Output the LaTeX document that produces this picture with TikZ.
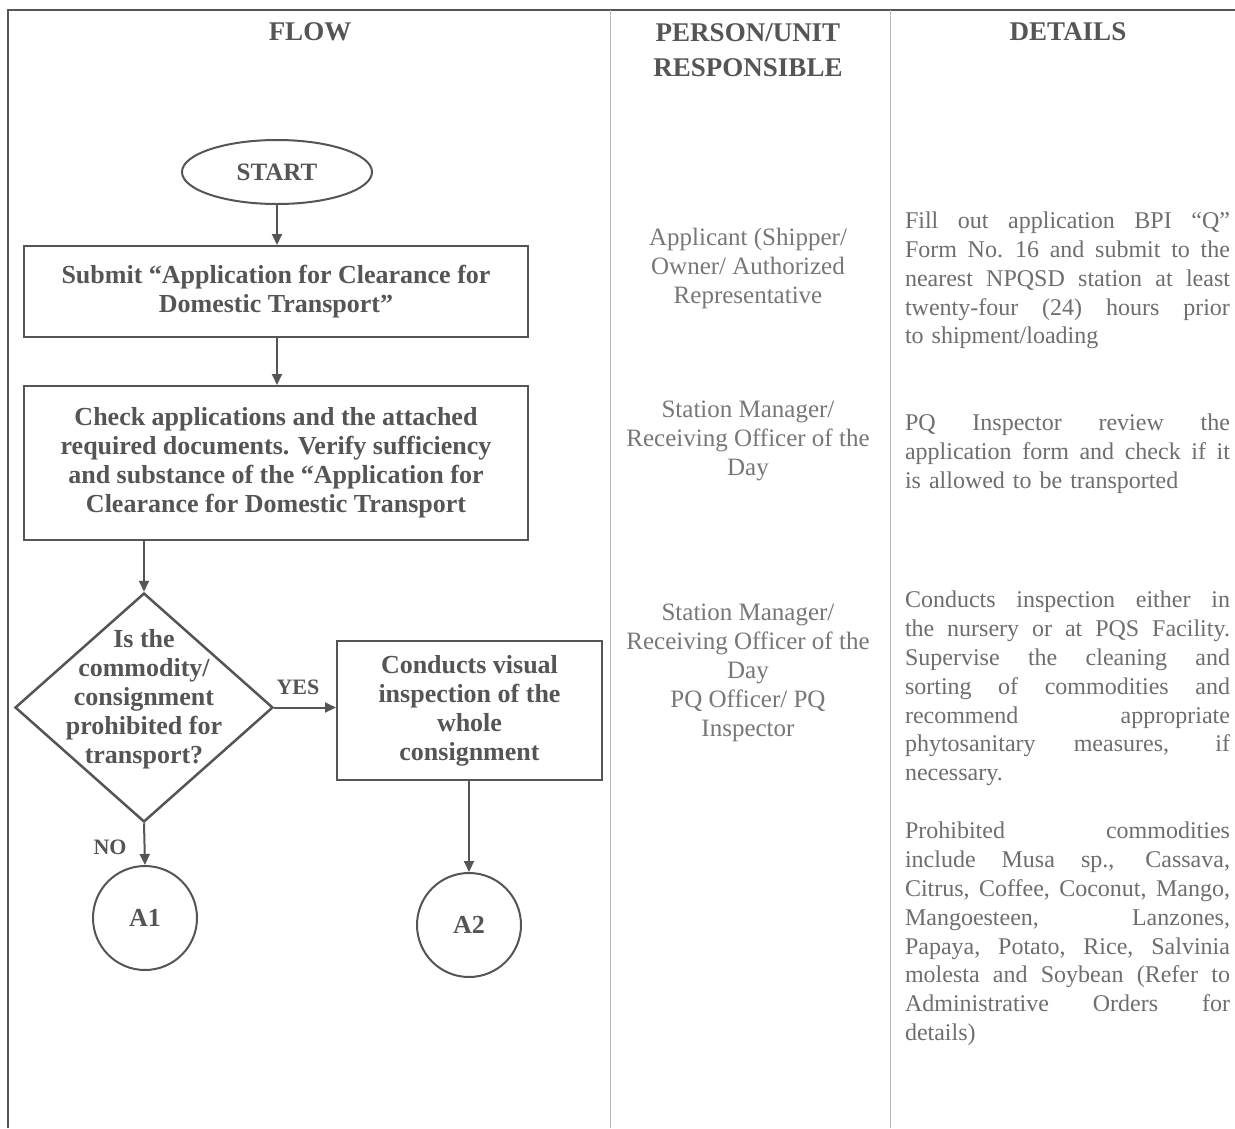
\documentclass[tikz,border=0pt]{standalone}
\usepackage{fontspec}
\setmainfont{Liberation Serif}
\usetikzlibrary{shapes.geometric,arrows.meta}
\definecolor{ink}{HTML}{555555}
\definecolor{soft}{HTML}{6E6E6E}
\definecolor{midgray}{HTML}{777777}
\definecolor{rulegray}{HTML}{B4B4B4}
\newcommand{\jl}[1]{\leavevmode\hbox to 325pt{\spaceskip=0.25em plus 1fil\relax #1}}
\begin{document}
\begin{tikzpicture}[x=1pt,y=-1pt,
  flowtxt/.style={text=ink,font=\fontsize{26}{29}\selectfont\bfseries,align=center},
  procbox/.style={flowtxt,draw=ink,line width=2pt,rectangle,inner sep=0pt},
  term/.style={draw=ink,line width=2pt,ellipse,minimum width=190pt,minimum height=64pt,inner sep=0pt,text=ink,font=\fontsize{25}{29}\selectfont\bfseries},
  dshape/.style={draw=ink,line width=2.5pt,diamond,minimum width=258pt,minimum height=229pt,inner sep=0pt},
  conn/.style={draw=ink,line width=2pt,circle,minimum size=104pt,inner sep=0pt,text=ink,font=\fontsize{26}{29}\selectfont\bfseries},
  arr/.style={draw=ink,line width=2pt,-{Triangle[length=11pt,width=10pt]}},
  lbl/.style={text=ink,font=\fontsize{22}{26}\selectfont\bfseries},
  hdr/.style={text=ink,font=\fontsize{27}{35}\selectfont\bfseries,align=center},
  mid/.style={text=midgray,font=\fontsize{25}{29}\selectfont,align=center,inner sep=0pt},
  det/.style={text=soft,font=\fontsize{24}{28.8}\selectfont,align=left,text width=325pt,inner sep=0pt}]
\useasboundingbox (0,0) rectangle (1235,1128);
\fill[white] (0,0) rectangle (1235,1128);
% table frame
\draw[ink,line width=2.5pt] (8,1128) -- (8,10) -- (1235,10);
\draw[rulegray,line width=1pt] (610,10) -- (610,1128);
\draw[rulegray,line width=1pt] (890,10) -- (890,1128);
% headers
\node[hdr] (hflow) at (310,32) {FLOW};
\node[hdr] (hperson) at (748,50) {PERSON/UNIT\\RESPONSIBLE};
\node[hdr] (hdet) at (1068,32) {DETAILS};
% flow
\node[term] (start) at (277,172) {START};
\node[procbox,minimum width=504pt,minimum height=91pt] (submit) at (276,291.5) {Submit “Application for Clearance for\\Domestic Transport”};
\node[procbox,minimum width=504pt,minimum height=154pt] (check) at (276,463) {Check applications and the attached\\required documents. Verify sufficiency\\and substance of the “Application for\\Clearance for Domestic Transport};
\node[dshape] (dec) at (144,707.5) {};
\node[flowtxt] (dectxt) at (144,699) {Is the\\commodity/\\consignment\\prohibited for\\transport?};
\node[procbox,minimum width=265pt,minimum height=139pt] (visual) at (469.5,710.5) {Conducts visual\\inspection of the\\whole\\consignment};
\node[conn] (a1) at (145,918) {A1};
\node[conn] (a2) at (469,925) {A2};
\draw[arr] (start) -- (start |- submit.north);
\draw[arr] (submit.south -| start) -- (start |- check.north);
\draw[arr] (check.south -| dec.north) -- (dec.north);
\draw[arr] (dec.east) -- (dec.east -| visual.west);
\node[lbl] (yes) at (298,687) {YES};
\draw[arr] (dec.south) -- (a1.north);
\node[lbl] (no) at (110,847) {NO};
\draw[arr] (visual.south -| a2.north) -- (a2.north);
% person/unit
\node[mid] (p1) at (748,268) {Applicant (Shipper/\\Owner/ Authorized\\Representative};
\node[mid] (p2) at (748,441) {Station Manager/\\Receiving Officer of the\\Day};
\node[mid] (p3) at (748,673) {Station Manager/\\Receiving Officer of the\\Day\\PQ Officer/ PQ\\Inspector};
% details
\node[det] (d1) at (1067.5,280.5) {\jl{Fill out application BPI “Q”}\\\jl{Form No. 16 and submit to the}\\\jl{nearest NPQSD station at least}\\\jl{twenty-four (24) hours prior}\\to shipment/loading};
\node[det] (d2) at (1067.5,453.5) {\jl{PQ Inspector review the}\\\jl{application form and check if it}\\is allowed to be transported};
\node[det] (d3) at (1067.5,688.5) {\jl{Conducts inspection either in}\\\jl{the nursery or at PQS Facility.}\\\jl{Supervise the cleaning and}\\\jl{sorting of commodities and}\\\jl{recommend appropriate}\\\jl{phytosanitary measures, if}\\necessary.};
\node[det] (d4) at (1067.5,934) {\jl{Prohibited commodities}\\\jl{include Musa sp., Cassava,}\\\jl{Citrus, Coffee, Coconut, Mango,}\\\jl{Mangoesteen, Lanzones,}\\\jl{Papaya, Potato, Rice, Salvinia}\\\jl{molesta and Soybean (Refer to}\\\jl{Administrative Orders for}\\details)};
\end{tikzpicture}
\end{document}
